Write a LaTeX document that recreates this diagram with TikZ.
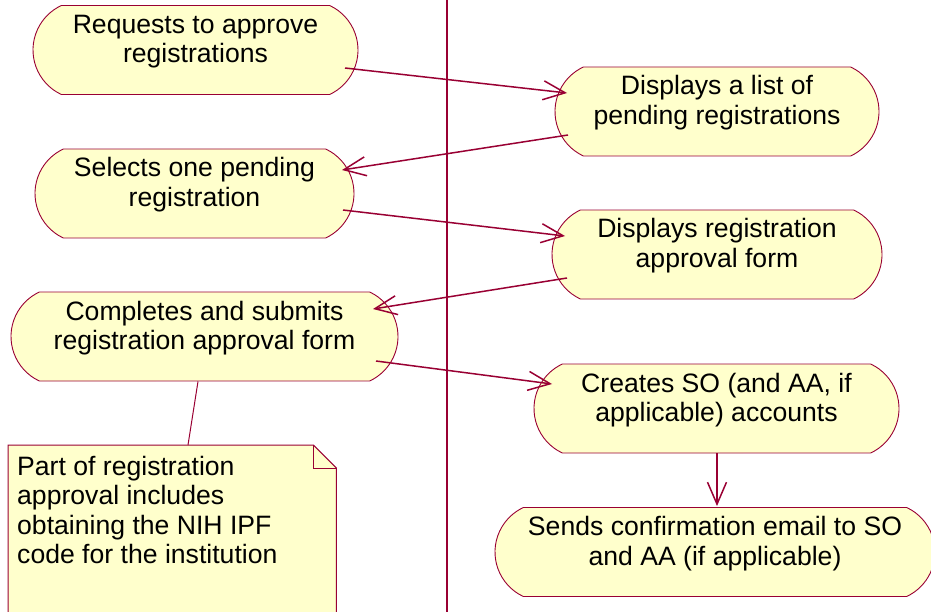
\documentclass[tikz,border=0pt]{standalone}
\usepackage{fontspec}
\setmainfont{Liberation Sans}
\usetikzlibrary{shapes.misc,arrows.meta,calc}
\definecolor{rose}{HTML}{990033}
\definecolor{actfill}{HTML}{FFFFCC}
\tikzset{
  act/.style={rounded rectangle, rounded rectangle arc length=130, draw=rose, fill=actfill, line width=0.9pt, inner sep=0pt, minimum height=89pt},
  lbl/.style={font=\fontsize{26.6}{29.5}\selectfont, align=center, anchor=base, inner sep=0pt},
  conn/.style={draw=rose, line width=1.5pt, -{Straight Barb[length=22pt,width=19pt,line width=1.5pt]}},
  notelink/.style={draw=rose, line width=1pt},
  lane/.style={draw=rose, line width=1.2pt},
}
\begin{document}
\begin{tikzpicture}[x=1pt,y=-1pt]
\useasboundingbox (0,0) rectangle (931,612);
% swimlane divider
\coordinate (divtop) at (447,0);
\coordinate (divbot) at (447,612);
\draw[lane] (divtop) -- (divbot);

% activities (text anchored at the baseline of its last line)
\node[act, minimum width=325pt] (A) at (195.5,50) {};
\node[lbl] (At) at ($(A.center)+(0,13)$) {Requests to approve\\registrations};
\node[act, minimum width=324pt] (B) at (717,111.5) {};
\node[lbl] (Bt) at ($(B.center)+(0,13)$) {Displays a list of\\pending registrations};
\node[act, minimum width=319pt] (C) at (194.5,193.5) {};
\node[lbl] (Ct) at ($(C.center)+(0,13)$) {Selects one pending\\registration};
\node[act, minimum width=330pt] (D) at (717,254.5) {};
\node[lbl] (Dt) at ($(D.center)+(0,13)$) {Displays registration\\approval form};
\node[act, minimum width=387pt] (E) at (204.5,336.5) {};
\node[lbl] (Et) at ($(E.center)+(0,13)$) {Completes and submits\\registration approval form};
\node[act, minimum width=365pt] (F) at (716.5,408.5) {};
\node[lbl] (Ft) at ($(F.center)+(0,13)$) {Creates SO (and AA, if\\applicable) accounts};
\node[act, minimum width=440pt] (G) at (715,552) {};
\node[lbl] (Gt) at ($(G.center)+(0,13)$) {Sends confirmation email to SO\\and AA (if applicable)};

% note
\node[minimum width=328pt, minimum height=200pt, anchor=north west, inner sep=0pt] (note) at (8,445) {};
\draw[rose, fill=actfill, line width=1pt]
  (note.north west) -- ($(note.north east)+(-23,0)$) -- ($(note.north east)+(0,23)$)
  -- (note.south east) -- (note.south west) -- cycle;
\draw[rose, line width=1pt] ($(note.north east)+(-23,0)$) -- ($(note.north east)+(-23,23)$) -- ($(note.north east)+(0,23)$);
\node[font=\fontsize{26.6}{29.5}\selectfont, align=left, anchor=base west, inner sep=0pt] (notet) at ($(note.north west)+(9,118.5)$)
  {Part of registration\\approval includes\\obtaining the NIH IPF\\code for the institution};
\draw[notelink] ($(E.south)+(-6.5,0)$) -- ($(note.north west)+(180,0)$);

% flows
\draw[conn] ($(A.center)+(149.5,18)$) -- ($(B.center)+(-150,-18.5)$);
\draw[conn] ($(B.center)+(-149,23.5)$) -- ($(C.center)+(147.5,-23.5)$);
\draw[conn] ($(C.center)+(148.5,16.5)$) -- ($(D.center)+(-152,-18.5)$);
\draw[conn] ($(D.center)+(-150,23.5)$) -- ($(E.center)+(168.5,-27.5)$);
\draw[conn] ($(E.center)+(171.5,24.5)$) -- ($(F.center)+(-164.5,-24.5)$);
\draw[conn] ($(F.south)+(0.5,0)$) -- ($(G.north)+(2,-1)$);
\end{tikzpicture}
\end{document}
